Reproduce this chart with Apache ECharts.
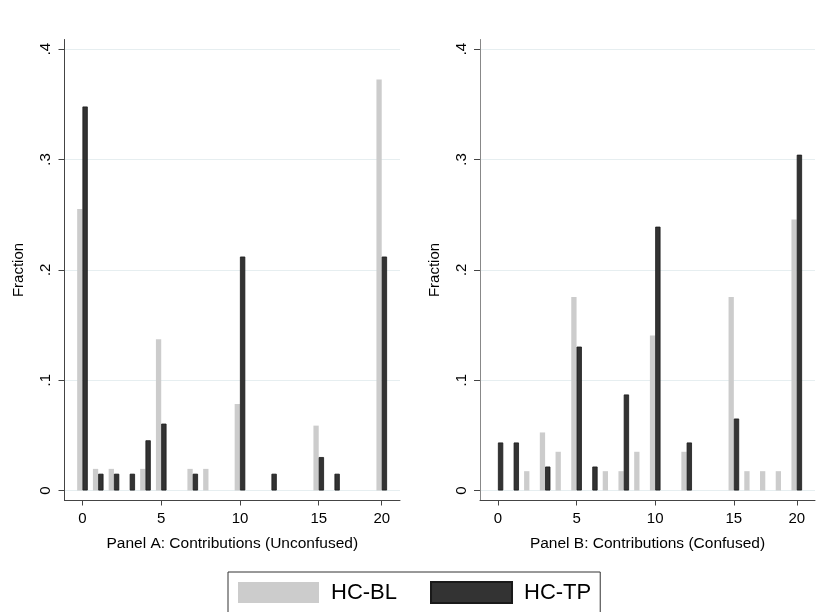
<!DOCTYPE html>
<html><head><meta charset="utf-8">
<script src="https://cdn.jsdelivr.net/npm/echarts@6/dist/echarts.min.js"></script>
<style>html,body{margin:0;padding:0;background:#fff}#c{width:833px;height:612px}</style>
</head><body><div id="c"></div>
<script>
// Contribution categories (plotted at ordinal slots; 20 follows 18)
const contributions = [0,1,2,3,4,5,6,7,8,9,10,11,12,13,14,15,16,17,18,20];
// Panel A: Unconfused
const blA = [0.255,0.0196,0.0196,0,0.0196,0.137,0,0.0196,0.0196,0,0.0784,0,0,0,0,0.0588,0,0,0,0.3725];
const tpA = [0.348,0.0152,0.0152,0.0152,0.0455,0.0606,0,0.0152,0,0,0.212,0,0.0152,0,0,0.0303,0.0152,0,0,0.212];
// Panel B: Confused
const blB = [0,0,0.0175,0.0526,0.0351,0.1754,0,0.0175,0.0175,0.0351,0.1404,0,0.0351,0,0,0.1754,0.0175,0.0175,0.0175,0.2456];
const tpB = [0.0435,0.0435,0,0.0217,0,0.1304,0.0217,0,0.087,0,0.2391,0,0.0435,0,0,0.0652,0,0,0,0.3043];
const xTickLabels = ['0','5','10','15','20'];
const yTickValues = [0,0.1,0.2,0.3,0.4];
const yTickLabels = ['0','.1','.2','.3','.4'];
const seriesNames = ['HC-BL','HC-TP'];
const panelTitles = ['Panel A: Contributions (Unconfused)','Panel B: Contributions (Confused)'];

const FONT = '"Liberation Sans", Arial, sans-serif';
const xTickSlots = xTickLabels.map(l => contributions.indexOf(Number(l)));
const pts = vals => vals.map((v,i) => v > 0 ? [i, v] : null).filter(Boolean);

const grids = [
  {left: 64.5, top: 39.5, width: 335.5, height: 461},
  {left: 480, top: 39.5, width: 335, height: 461}
];
const axisColors = ['#444', '#888'];

const xAxes = [0,1].map(k => ({
  type: 'value', gridIndex: k, min: -1.14, max: 20.16,
  name: panelTitles[k], nameLocation: 'middle', nameGap: 35,
  nameTextStyle: {fontFamily: FONT, fontSize: 15.5, color: '#000'},
  axisLine: {show: true, onZero: false, lineStyle: {color: '#444', width: 1}},
  axisTick: {show: true, length: 5, customValues: xTickSlots, lineStyle: {color: '#444'}},
  axisLabel: {customValues: xTickSlots, margin: 11, fontFamily: FONT, fontSize: 15, color: '#000',
    formatter: v => String(contributions[Math.round(v)])},
  splitLine: {show: false}
}));
const yAxes = [0,1].map(k => ({
  type: 'value', gridIndex: k, min: -0.00906, max: 0.4087,
  name: 'Fraction', nameLocation: 'middle', nameGap: 38, nameRotate: 90,
  nameTextStyle: {fontFamily: FONT, fontSize: 15, color: '#000'},
  axisLine: {show: true, onZero: false, lineStyle: {color: axisColors[k], width: 1}},
  axisTick: {show: true, length: 6, customValues: yTickValues, lineStyle: {color: '#444'}},
  axisLabel: {customValues: yTickValues, rotate: 90, margin: 11, fontFamily: FONT, fontSize: 15, color: '#000',
    formatter: v => yTickLabels[Math.round(v * 10)]},
  splitLine: {show: true, lineStyle: {color: '#e6eef0', width: 1}}
}));

const panelData = [[blA, tpA], [blB, tpB]];
const series = [];
[0,1].forEach(k => {
  series.push({type: 'bar', name: seriesNames[0], xAxisIndex: k, yAxisIndex: k,
    data: pts(panelData[k][0]), barWidth: 5.3, barGap: '0%',
    itemStyle: {color: '#cccccc'}});
  series.push({type: 'bar', name: seriesNames[1], xAxisIndex: k, yAxisIndex: k,
    data: pts(panelData[k][1]), barWidth: 5.3, barGap: '0%',
    itemStyle: {color: '#333333', borderColor: '#1a1a1a', borderWidth: 0.8}});
});

const chart = echarts.init(document.getElementById('c'), null, {renderer: 'canvas'});
chart.setOption({
  animation: false,
  backgroundColor: '#fff',
  grid: grids,
  xAxis: xAxes,
  yAxis: yAxes,
  legend: {
    data: seriesNames, left: 228, top: 572, icon: 'rect',
    itemWidth: 81, itemHeight: 21, itemGap: 33,
    padding: [9, 9, 9, 10], borderColor: '#333', borderWidth: 1, backgroundColor: '#fff',
    textStyle: {fontFamily: FONT, fontSize: 22, color: '#000', padding: [0, 0, 0, 7]}
  },
  series: series
});
</script>
</body></html>
